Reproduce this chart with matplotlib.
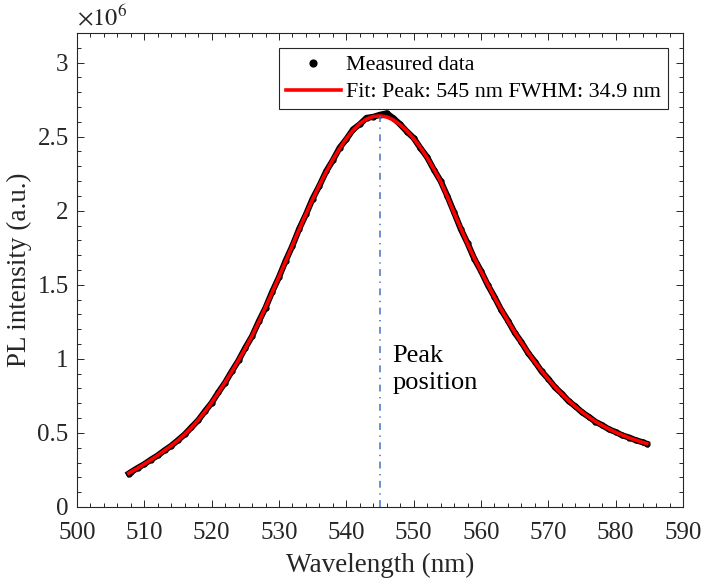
import matplotlib
matplotlib.use("Agg")
import matplotlib.pyplot as plt
from matplotlib.ticker import MultipleLocator, FormatStrFormatter

# wavelength grid (nm) of the read-off points
wavelength = [507.7] + list(range(508, 585)) + [584.6]

# measured PL (x1e6)
measured = [0.226,
            0.235, 0.263, 0.289, 0.320, 0.348, 0.382, 0.413, 0.451, 0.490, 0.538,
            0.585, 0.646, 0.703, 0.774, 0.840, 0.917, 0.990, 1.075, 1.153, 1.253,
            1.345, 1.454, 1.552, 1.664, 1.764, 1.878, 1.975, 2.082, 2.169, 2.266,
            2.341, 2.425, 2.483, 2.549, 2.584, 2.627, 2.634, 2.648, 2.658, 2.624,
            2.583, 2.534, 2.491, 2.423, 2.362, 2.277, 2.201, 2.099, 1.989, 1.876,
            1.781, 1.676, 1.593, 1.499, 1.418, 1.330, 1.258, 1.177, 1.113, 1.039,
            0.981, 0.915, 0.865, 0.807, 0.765, 0.715, 0.680, 0.639, 0.609, 0.575,
            0.552, 0.524, 0.506, 0.483, 0.469, 0.450, 0.437,
            0.427]

# fitted curve (x1e6)
fit = [0.228,
       0.236, 0.262, 0.290, 0.319, 0.349, 0.381, 0.414, 0.450, 0.491, 0.536,
       0.587, 0.644, 0.705, 0.772, 0.842, 0.915, 0.992, 1.072, 1.156, 1.250,
       1.348, 1.450, 1.555, 1.660, 1.768, 1.874, 1.978, 2.078, 2.173, 2.262,
       2.345, 2.420, 2.487, 2.543, 2.588, 2.619, 2.636, 2.640, 2.633, 2.613,
       2.580, 2.538, 2.487, 2.427, 2.358, 2.281, 2.197, 2.095, 1.985, 1.880,
       1.777, 1.680, 1.590, 1.502, 1.415, 1.333, 1.255, 1.180, 1.110, 1.042,
       0.978, 0.918, 0.862, 0.810, 0.762, 0.718, 0.678, 0.641, 0.607, 0.577,
       0.550, 0.526, 0.504, 0.485, 0.467, 0.451, 0.436,
       0.428]

peak_nm = 545
fwhm_nm = 34.9

plt.rcParams['font.family'] = ['Liberation Serif', 'DejaVu Serif']
plt.rcParams['mathtext.fontset'] = 'stix'

axcol = '#262626'

fig = plt.figure(figsize=(7.03, 5.83), dpi=100)
ax = fig.add_axes([0.1095, 0.1304, 0.8621, 0.813])

# measured data: dense black band plus dots for the legend
ax.plot(wavelength, measured, '-', color='k', lw=4.4, zorder=2)
ax.plot(wavelength, measured, 'o', color='k', ms=3.5, zorder=2,
        label='Measured data')
ax.plot(wavelength, fit, '-', color='#ff0000', lw=2.6, zorder=3,
        label='Fit: Peak: %d nm FWHM: %.1f nm' % (peak_nm, fwhm_nm))

# peak position marker
ax.plot([peak_nm, peak_nm], [0, max(fit)], color='#4472c4', lw=1.1,
        dashes=(4.5, 3.6, 0.9, 3.6), zorder=4)
ax.text(546.8, 0.93, 'Peak\nposition', fontsize=19, va='center', ha='left',
        linespacing=1.3, color='k')

ax.set_xlim(500, 590)
ax.set_ylim(0, 3.2)
ax.xaxis.set_major_locator(MultipleLocator(10))
ax.xaxis.set_minor_locator(MultipleLocator(2))
ax.yaxis.set_major_locator(MultipleLocator(0.5))
ax.yaxis.set_minor_locator(MultipleLocator(0.1))
ax.yaxis.set_major_formatter(FormatStrFormatter('%g'))

ax.tick_params(which='both', direction='in', top=True, right=True,
               colors=axcol, labelcolor=axcol, width=0.7)
ax.tick_params(which='major', length=5, labelsize=18, pad=6)
ax.tick_params(axis='x', which='major', pad=11)
ax.tick_params(which='minor', length=2.8)
for s in ax.spines.values():
    s.set_color(axcol)
    s.set_linewidth(0.8)

ax.set_xlabel('Wavelength (nm)', fontsize=19.5, color=axcol, labelpad=6)
ax.set_ylabel('PL intensity (a.u.)', fontsize=19.5, color=axcol, labelpad=4)
ax.text(0.0, 1.005, r'$\times10^{6}$', transform=ax.transAxes, fontsize=17.5,
        ha='left', va='bottom', color=axcol)

leg = ax.legend(loc='upper right', fontsize=15.8, fancybox=False,
                edgecolor=axcol, framealpha=1, handlelength=2.5,
                handletextpad=0.25, borderaxespad=0.7, borderpad=0.3,
                labelspacing=0.3, markerscale=1.4)
leg.get_frame().set_linewidth(0.8)

fig.savefig('out.png', dpi=100)
